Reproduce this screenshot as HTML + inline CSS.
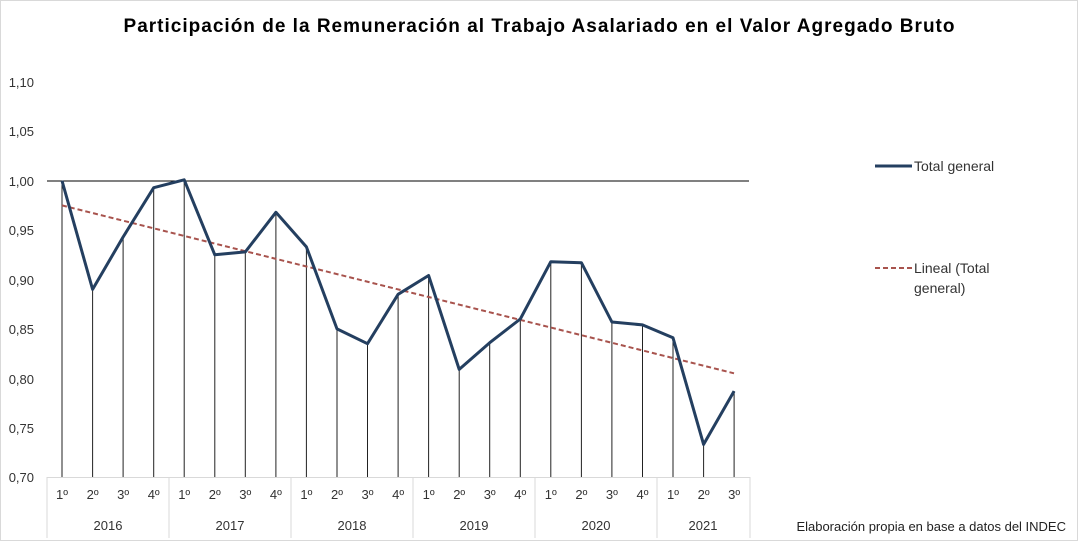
<!DOCTYPE html>
<html><head><meta charset="utf-8"><style>
body{margin:0;background:#fff;width:1078px;height:541px;overflow:hidden;font-family:"Liberation Sans",sans-serif}
</style></head><body>
<svg width="1078" height="541" xmlns="http://www.w3.org/2000/svg" font-family="Liberation Sans, sans-serif">
<rect x="0.5" y="0.5" width="1077" height="540" fill="#fff" stroke="#d9d9d9"/>
<text x="539" y="32" text-anchor="middle" font-size="19" font-weight="bold" fill="#000" textLength="831" lengthAdjust="spacing">Participación  de la Remuneración al Trabajo Asalariado en el Valor Agregado Bruto</text>
<g font-size="13" fill="#333" text-anchor="end">
<text x="34" y="87">1,10</text><text x="34" y="136">1,05</text><text x="34" y="186">1,00</text><text x="34" y="235">0,95</text><text x="34" y="285">0,90</text><text x="34" y="334">0,85</text><text x="34" y="384">0,80</text><text x="34" y="433">0,75</text><text x="34" y="482">0,70</text>
</g>
<line x1="47" y1="181" x2="749" y2="181" stroke="#000" stroke-width="1"/>
<g stroke="#222" stroke-width="1">
<line x1="62" y1="181" x2="62" y2="477"/><line x1="92.6" y1="289" x2="92.6" y2="477"/><line x1="123.1" y1="237" x2="123.1" y2="477"/><line x1="153.7" y1="188" x2="153.7" y2="477"/><line x1="184.2" y1="180" x2="184.2" y2="477"/><line x1="214.8" y1="255" x2="214.8" y2="477"/><line x1="245.3" y1="252" x2="245.3" y2="477"/><line x1="275.9" y1="212" x2="275.9" y2="477"/><line x1="306.4" y1="247" x2="306.4" y2="477"/><line x1="337" y1="329" x2="337" y2="477"/><line x1="367.5" y1="344" x2="367.5" y2="477"/><line x1="398.1" y1="294" x2="398.1" y2="477"/><line x1="428.6" y1="275" x2="428.6" y2="477"/><line x1="459.2" y1="369" x2="459.2" y2="477"/><line x1="489.7" y1="343" x2="489.7" y2="477"/><line x1="520.3" y1="319" x2="520.3" y2="477"/><line x1="550.8" y1="262" x2="550.8" y2="477"/><line x1="581.4" y1="263" x2="581.4" y2="477"/><line x1="611.9" y1="322" x2="611.9" y2="477"/><line x1="642.5" y1="325" x2="642.5" y2="477"/><line x1="673" y1="338" x2="673" y2="477"/><line x1="703.6" y1="444" x2="703.6" y2="477"/><line x1="734.1" y1="391" x2="734.1" y2="477"/>
</g>
<g stroke="#d9d9d9" stroke-width="1">
<line x1="47" y1="477.5" x2="750" y2="477.5"/>
<line x1="47" y1="477" x2="47" y2="538"/><line x1="169" y1="477" x2="169" y2="538"/><line x1="291" y1="477" x2="291" y2="538"/><line x1="413" y1="477" x2="413" y2="538"/><line x1="535" y1="477" x2="535" y2="538"/><line x1="657" y1="477" x2="657" y2="538"/><line x1="750" y1="477" x2="750" y2="538"/>
</g>
<polyline fill="none" stroke="#a8534d" stroke-width="2" stroke-dasharray="5,3" points="62,205.4 734,373.3"/>
<polyline fill="none" stroke="#243f60" stroke-width="3" stroke-linejoin="round" points="62,180.75 92.6,289.4 123.1,237 153.7,187.7 184.2,179.8 214.8,254.8 245.3,251.9 275.9,212.3 306.4,246.9 337,328.9 367.5,343.7 398.1,294.3 428.6,275.5 459.2,369.4 489.7,342.7 520.3,319 550.8,261.7 581.4,262.7 611.9,322 642.5,324.9 673,337.8 703.6,444.4 734.1,391.1"/>
<g font-size="13" fill="#333" text-anchor="middle">
<text x="62" y="499">1º</text><text x="92.6" y="499">2º</text><text x="123.1" y="499">3º</text><text x="153.7" y="499">4º</text><text x="184.2" y="499">1º</text><text x="214.8" y="499">2º</text><text x="245.3" y="499">3º</text><text x="275.9" y="499">4º</text><text x="306.4" y="499">1º</text><text x="337" y="499">2º</text><text x="367.5" y="499">3º</text><text x="398.1" y="499">4º</text><text x="428.6" y="499">1º</text><text x="459.2" y="499">2º</text><text x="489.7" y="499">3º</text><text x="520.3" y="499">4º</text><text x="550.8" y="499">1º</text><text x="581.4" y="499">2º</text><text x="611.9" y="499">3º</text><text x="642.5" y="499">4º</text><text x="673" y="499">1º</text><text x="703.6" y="499">2º</text><text x="734.1" y="499">3º</text>
<text x="108" y="530">2016</text><text x="230" y="530">2017</text><text x="352" y="530">2018</text><text x="474" y="530">2019</text><text x="596" y="530">2020</text><text x="703" y="530">2021</text>
</g>
<line x1="875" y1="166" x2="912" y2="166" stroke="#243f60" stroke-width="3"/>
<text x="914" y="171" font-size="14" fill="#333">Total general</text>
<line x1="875" y1="268" x2="912" y2="268" stroke="#a8534d" stroke-width="2" stroke-dasharray="5,3"/>
<text x="914" y="273" font-size="14" fill="#333">Lineal (Total</text>
<text x="914" y="293" font-size="14" fill="#333">general)</text>
<text x="1066" y="531" text-anchor="end" font-size="13" fill="#222">Elaboración propia en base a datos del INDEC</text>
</svg>
</body></html>
